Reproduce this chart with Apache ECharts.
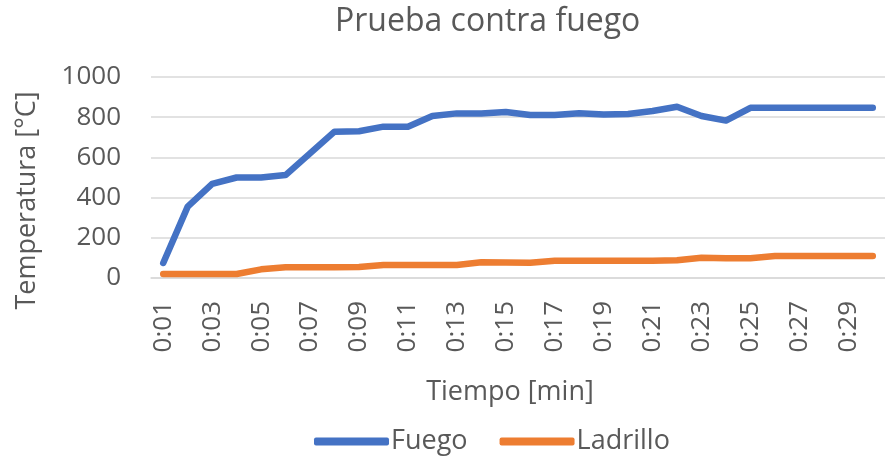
<!DOCTYPE html>
<html>
<head>
<meta charset="utf-8">
<script src="https://cdn.jsdelivr.net/npm/echarts@6/dist/echarts.min.js"></script>
<style>html,body{margin:0;padding:0;background:#fff}#c{width:885px;height:458px}</style>
</head>
<body>
<div id="c"></div>
<script>
const categories = ['0:01','0:02','0:03','0:04','0:05','0:06','0:07','0:08','0:09','0:10','0:11','0:12','0:13','0:14','0:15','0:16','0:17','0:18','0:19','0:20','0:21','0:22','0:23','0:24','0:25','0:26','0:27','0:28','0:29','0:30'];
const fuego = [75,355,468,500,500,512,620,728,730,753,753,806,819,819,826,811,811,820,814,816,831,852,806,783,847,847,847,847,847,847];
const ladrillo = [20,20,20,20,43,53,53,53,55,65,65,65,65,78,77,76,86,86,86,86,86,88,101,98,98,109,109,109,109,109];
const yTicks = {min:0, max:1000, interval:200};

const FONT = 'Open Sans';
const TXT = '#595959';
const chart = echarts.init(document.getElementById('c'));
chart.setOption({
  animation:false,
  title:{text:'Prueba contra fuego', left:330, top:1, textStyle:{fontFamily:FONT, fontSize:32, fontWeight:'normal', color:TXT}},
  legend:{bottom:-2, left:309, itemWidth:75, itemHeight:8, itemGap:32, icon:'roundRect',
    textStyle:{fontFamily:FONT, fontSize:27, color:TXT, padding:[0,0,0,-3]},
    data:['Fuego','Ladrillo']},
  grid:{left:151, top:77, right:-10, bottom:180, containLabel:false},
  xAxis:{type:'category', data:categories, boundaryGap:true,
    name:'Tiempo [min]', nameLocation:'middle', nameGap:101,
    nameTextStyle:{fontFamily:FONT, fontSize:27, color:TXT, padding:[0,0,0,-16]},
    axisLine:{lineStyle:{color:'#D9D9D9', width:1.5}}, axisTick:{show:false},
    axisLabel:{interval:1, rotate:90, margin:23, fontFamily:FONT, fontSize:26, color:TXT}},
  yAxis:{type:'value', min:yTicks.min, max:yTicks.max, interval:yTicks.interval,
    name:'Temperatura [°C]', nameLocation:'middle', nameGap:110,
    nameTextStyle:{fontFamily:FONT, fontSize:27, color:TXT, padding:[0,46,0,0]},
    axisLine:{show:false}, axisTick:{show:false},
    splitLine:{lineStyle:{color:'#D9D9D9', width:1.5}},
    axisLabel:{margin:30, fontFamily:FONT, fontSize:26, color:TXT, formatter:v => String(v)}},
  series:[
    {name:'Fuego', type:'line', data:fuego, symbol:'none', lineStyle:{color:'#4472C4', width:6.5, cap:'round', join:'round'}, itemStyle:{color:'#4472C4'}},
    {name:'Ladrillo', type:'line', data:ladrillo, symbol:'none', lineStyle:{color:'#ED7D31', width:6.5, cap:'round', join:'round'}, itemStyle:{color:'#ED7D31'}}
  ]
});
</script>
</body>
</html>
